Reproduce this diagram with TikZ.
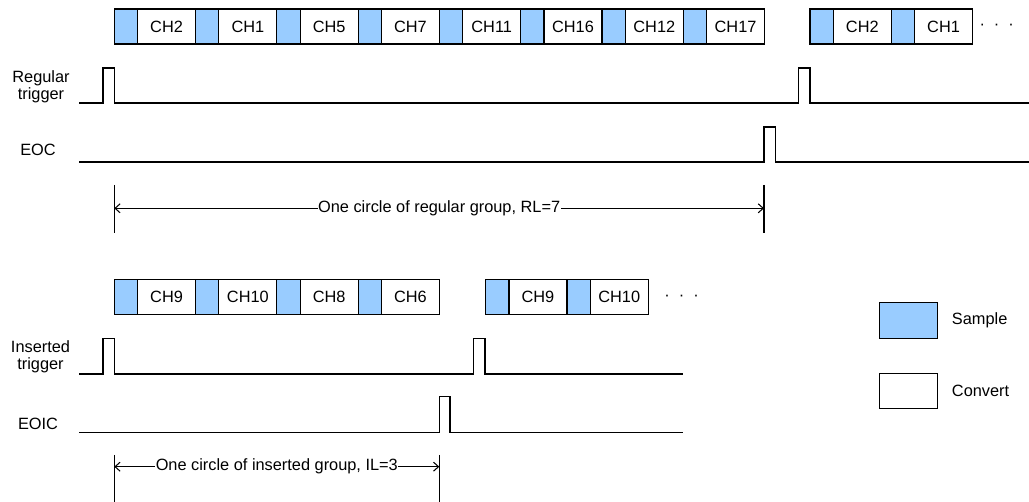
\documentclass[tikz,border=0pt]{standalone}
\usepackage{fontspec}
\setmainfont{Liberation Sans}
\usepackage{tikz}
\usetikzlibrary{arrows.meta, positioning}
\definecolor{sampleblue}{HTML}{99CCFF}

\begin{document}
\begin{tikzpicture}[
    x=0.02cm, y=-0.02cm,
    font=\fontsize{9.3}{9.8}\selectfont,
    sample/.style={rectangle, draw=black, fill=sampleblue, line width=0.6pt, outer sep=0pt, inner sep=0pt, minimum width=0.466cm, minimum height=0.7cm},
    convert/.style={rectangle, draw=black, fill=white, line width=0.6pt, outer sep=0pt, inner sep=0pt, minimum width=1.16cm, minimum height=0.7cm},
    wave/.style={line width=0.6pt},
    tickline/.style={line width=0.6pt},
    dim/.style={<->, line width=0.6pt, >={Straight Barb[length=1mm, width=1.8mm]}},
    siglabel/.style={align=center},
    dimlabel/.style={fill=white, inner sep=0.3pt}
]
\useasboundingbox (0,0) rectangle (1029,502);

% === Regular group sequence (top) ===
\node[sample] (rs1) at (125.95, 26.5) {};
\node[convert, right=0pt of rs1] (rc1) {CH2};
\node[sample, right=0pt of rc1] (rs2) {};
\node[convert, right=0pt of rs2] (rc2) {CH1};
\node[sample, right=0pt of rc2] (rs3) {};
\node[convert, right=0pt of rs3] (rc3) {CH5};
\node[sample, right=0pt of rc3] (rs4) {};
\node[convert, right=0pt of rs4] (rc4) {CH7};
\node[sample, right=0pt of rc4] (rs5) {};
\node[convert, right=0pt of rs5] (rc5) {CH11};
\node[sample, right=0pt of rc5] (rs6) {};
\node[convert, right=0pt of rs6] (rc6) {CH16};
\node[sample, right=0pt of rc6] (rs7) {};
\node[convert, right=0pt of rs7] (rc7) {CH12};
\node[sample, right=0pt of rc7] (rs8) {};
\node[convert, right=0pt of rs8] (rc8) {CH17};

% next circle
\node[sample] (rn1) at (821.65, 26.5) {};
\node[convert, right=0pt of rn1] (rm1) {CH2};
\node[sample, right=0pt of rm1] (rn2) {};
\node[convert, right=0pt of rn2] (rm2) {CH1};
\node (rdots) at (996.7, 26.5) {·\hspace{0.18cm}·\hspace{0.18cm}·};

% === Regular signals ===
\node[siglabel] (regtrig) at (41, 86.5) {Regular\\trigger};
\draw[wave] (79,103) -- (103,103) -- (103,68) -- (114.3,68) -- (114.3,103)
    -- (798.3,103) -- (798.3,68) -- (810,68) -- (810,103) -- (1029,103);

\node[siglabel] (eoc) at (38, 150) {EOC};
\draw[wave] (79,162) -- (764,162) -- (764,127) -- (775.7,127) -- (775.7,162) -- (1029,162);

% one regular circle
\draw[tickline] (114.3,185) -- (114.3,233);
\draw[tickline] (764,185) -- (764,233);
\coordinate (rl0) at (114.3,208.3);
\coordinate (rl1) at (764,208.3);
\draw[dim] (rl0) -- node[dimlabel] (rllabel) {One circle of regular group, RL=7} (rl1);

% === Inserted group sequence (bottom) ===
\node[sample] (is1) at (125.95, 297.2) {};
\node[convert, right=0pt of is1] (ic1) {CH9};
\node[sample, right=0pt of ic1] (is2) {};
\node[convert, right=0pt of is2] (ic2) {CH10};
\node[sample, right=0pt of ic2] (is3) {};
\node[convert, right=0pt of is3] (ic3) {CH8};
\node[sample, right=0pt of ic3] (is4) {};
\node[convert, right=0pt of is4] (ic4) {CH6};

% next circle
\node[sample] (in1) at (497.35, 297.2) {};
\node[convert, right=0pt of in1] (im1) {CH9};
\node[sample, right=0pt of im1] (in2) {};
\node[convert, right=0pt of in2] (im2) {CH10};
\node (idots) at (681.6, 297.5) {·\hspace{0.18cm}·\hspace{0.18cm}·};

% === Inserted signals ===
\node[siglabel] (instrig) at (40.5, 356.5) {Inserted\\trigger};
\draw[wave] (79,374) -- (103,374) -- (103,338.3) -- (114.3,338.3) -- (114.3,374)
    -- (473.3,374) -- (473.3,338.3) -- (485,338.3) -- (485,374) -- (683,374);

\node[siglabel] (eoic) at (38, 424) {EOIC};
\draw[wave] (79,432.7) -- (439.3,432.7) -- (439.3,396.7) -- (450,396.7) -- (450,432.7) -- (683,432.7);

% one inserted circle
\draw[tickline] (114.3,455) -- (114.3,502);
\draw[tickline] (439.3,455) -- (439.3,502);
\coordinate (il0) at (114.3,466.7);
\coordinate (il1) at (439.3,466.7);
\draw[dim] (il0) -- node[dimlabel] (illabel) {One circle of inserted group, IL=3} (il1);

% === Legend ===
\node[sample, minimum width=1.17cm, minimum height=0.71cm] (lgsample) at (908.5, 320.5) {};
\node[right=0.16cm of lgsample] (lgsampletxt) {Sample};
\node[convert, minimum width=1.17cm, minimum height=0.71cm] (lgconvert) at (908.5, 391.2) {};
\node[right=0.16cm of lgconvert] (lgconverttxt) {Convert};

\end{tikzpicture}
\end{document}
